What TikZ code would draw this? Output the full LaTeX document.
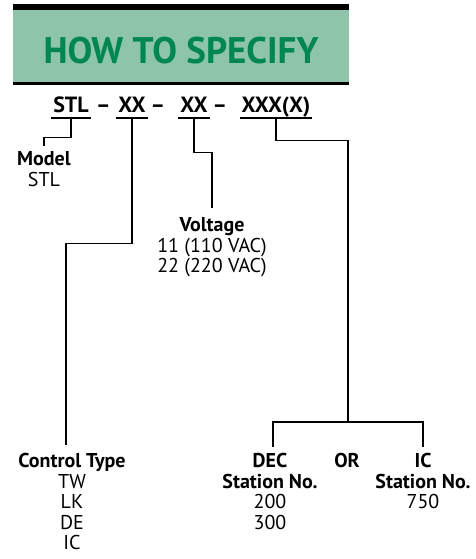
\documentclass[tikz,border=0pt]{standalone}
\usepackage{fontspec}
\setmainfont{PT Sans}
\usetikzlibrary{positioning}
\definecolor{hdrfill}{HTML}{8DC4AA}
\definecolor{hdrtext}{HTML}{00874F}
\tikzset{part/.style={font=\fontsize{22}{24}\selectfont\bfseries,inner xsep=2pt,inner ysep=5pt,text depth=0pt,anchor=base},
  joiner/.style={font=\fontsize{22}{24}\selectfont\bfseries,anchor=base},
  lbl/.style={font=\fontsize{20}{20.5}\selectfont,align=center,anchor=north,inner sep=0pt},
  lead/.style={line width=1.4pt,shorten >=8pt},
  uline/.style={line width=2.2pt},
  hdr/.style={font=\fontsize{37}{40}\selectfont\bfseries,text=hdrtext}}

\begin{document}
\begin{tikzpicture}[x=1pt,y=-1pt]
  \useasboundingbox (0,0) rectangle (476,559);

  % header band
  \fill[hdrfill] (13,7) rectangle (349,84);
  \fill[black] (13,4) rectangle (349,10);
  \fill[black] (13,82) rectangle (349,85);
  \node[hdr] (title) at (181,50.5) {HOW TO SPECIFY};

  % model code
  \node[part] (stl) at (71,113) {STL};
  \node[joiner] (d1) at (103.5,113) {–};
  \node[part] (xx1) at (132,113) {XX};
  \node[joiner] (d2) at (158,113) {–};
  \node[part] (xx2) at (194,113) {XX};
  \node[joiner] (d3) at (220,113) {–};
  \node[part] (xxx) at (276,113) {XXX(X)};
  \foreach \p in {stl,xx1,xx2,xxx}
    \draw[uline] (\p.south west) -- (\p.south east);

  % labels
  \node[lbl] (model) at (44,151.5) {\textbf{Model}\\STL};
  \node[lbl] (volt) at (212,217.5) {\textbf{Voltage}\\11 (110 VAC)\\22 (220 VAC)};
  \node[lbl] (ctype) at (72,453.5) {\textbf{Control Type}\\TW\\LK\\DE\\IC};
  \node[lbl] (dec) at (270,453.5) {\textbf{DEC}\\\textbf{Station No.}\\200\\300};
  \node[lbl] (or) at (347,453.5) {\textbf{OR}};
  \node[lbl] (ic) at (423,453.5) {\textbf{IC}\\\textbf{Station No.}\\750};
  \coordinate (split) at (348,422);

  % leads
  \draw[lead,shorten >=6pt] (stl.south) -- ++(0,19) -| (model.north);
  \draw[lead,shorten >=9pt] (xx1.south) -- ++(0,125) -| ([xshift=-6pt]ctype.north);
  \draw[lead,shorten >=10pt] (xx2.south) -- ++(0,34) -| (volt.north);
  \draw[lead,shorten >=0pt] (xxx.south) -- ++(0,22) -| (split);
  \draw[lead,shorten >=7pt] (split) -| ([xshift=3pt]dec.north);
  \draw[lead,shorten >=7pt] (split) -| (ic.north);
\end{tikzpicture}
\end{document}
